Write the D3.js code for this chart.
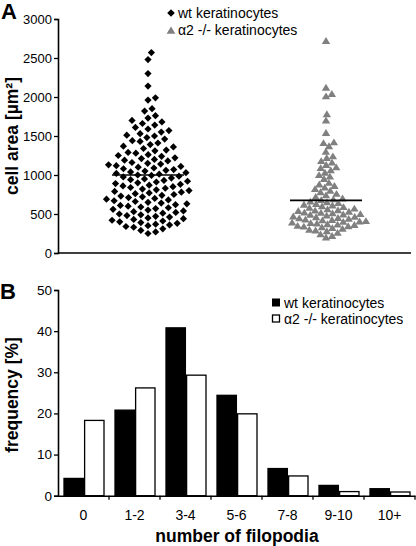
<!DOCTYPE html>
<html><head><meta charset="utf-8">
<script src="https://cdn.jsdelivr.net/npm/d3@7"></script>
<style>body{margin:0;background:#fff}svg{display:block;font-family:"Liberation Sans",Arial,sans-serif}</style>
</head><body><svg id="c" width="416" height="546"></svg>
<script>
// ---- Panel A data ----
const groupsA = ["wt keratinocytes", "α2 -/- keratinocytes"];
const wtArea = [2570,2480,2300,2140,1990,1960,1850,1820,1760,1730,1700,1680,1660,1640,1610,1590,1570,1550,1530,1510,1500,1480,1460,1440,1430,1410,1390,1370,1360,1340,1320,1310,1290,1280,1260,1250,1240,1220,1210,1200,1190,1180,1160,1150,1140,1130,1120,1110,1100,1090,1080,1070,1060,1050,1040,1030,1020,1010,1000,995,985,975,960,950,940,930,920,910,900,890,880,870,860,850,840,830,820,810,800,790,780,770,760,750,740,730,720,710,700,690,680,670,660,650,640,630,620,610,600,590,580,570,560,550,540,530,520,510,500,490,480,470,460,450,440,430,420,410,400,390,380,370,360,350,340,330,310,290,270,250];
const koArea = [2720,2120,2040,2010,1780,1700,1540,1420,1410,1370,1300,1240,1220,1180,1160,1130,1100,1090,1060,1030,1000,980,950,900,880,860,840,820,800,780,760,740,720,700,690,680,660,650,640,630,620,610,600,590,580,570,560,550,545,540,530,520,515,510,500,495,490,480,470,465,460,450,445,440,430,425,420,410,405,400,390,385,380,370,365,360,350,345,340,330,320,310,300,290,280,260,240,220,200];
const meansA = [1000, 675];
const yTicksA = [0,500,1000,1500,2000,2500,3000];
// ---- Panel B data ----
const categoriesB = ["0","1-2","3-4","5-6","7-8","9-10","10+"];
const seriesB = ["wt keratinocytes", "α2 -/- keratinocytes"];
const wtFreq = [4.2, 20.8, 40.8, 24.4, 6.6, 2.5, 1.7];
const koFreq = [18.3, 26.2, 29.3, 19.9, 4.8, 1.0, 0.9];
const yTicksB = [0,10,20,30,40,50];

const svg = d3.select("#c");
const TICK = 13;
const FONT = 14;
const LAB = 17.5;

// ================= Panel A =================
const yA = d3.scaleLinear().domain([0,3000]).range([253,19]);
const xA = d3.scalePoint().domain(groupsA).range([148,326]);
const gA = svg.append("g");
gA.append("g").attr("transform","translate(58,0)")
  .call(d3.axisLeft(yA).tickValues(yTicksA).tickSize(4).tickPadding(2).tickFormat(d3.format("d")))
  .call(g=>{g.select(".domain").attr("stroke-width",1.6);g.selectAll(".tick line").attr("stroke-width",1.3);
    g.selectAll("text").attr("font-size",TICK).attr("fill","#000").attr("font-family","Liberation Sans, Arial");});
gA.append("line").attr("x1",58).attr("x2",411).attr("y1",yA(0)).attr("y2",yA(0)).attr("stroke","#000").attr("stroke-width",1.6);

function swarm(values, cx, d){
  const placed=[]; const out=[];
  const order = values.map((v,i)=>i).sort((a,b)=>values[a]-values[b]);
  for(const i of order){
    const y=yA(values[i]);
    const near=placed.filter(p=>Math.abs(p.y-y)<d);
    const cands=[0];
    for(const p of near){const dx=Math.sqrt(d*d-(p.y-y)**2);cands.push(p.x+dx,p.x-dx);}
    cands.sort((a,b)=>Math.abs(a)-Math.abs(b));
    let xo=0;
    for(const c of cands){ if(near.every(p=>(p.x-c)**2+(p.y-y)**2>=d*d-0.01)){xo=c;break;} }
    placed.push({x:xo,y}); out.push({x:cx+xo,y});
  }
  return out;
}
const diamond = (x,y,r)=>`M${x},${y-r}L${x+r},${y}L${x},${y+r}L${x-r},${y}Z`;
const tri = (x,y,r)=>`M${x},${y-r}L${x+r*1.1},${y+r*0.8}L${x-r*1.1},${y+r*0.8}Z`;

const wtPts = swarm(wtArea, xA(groupsA[0]), 7.8);
gA.append("g").selectAll("path").data(wtPts).join("path").attr("d",p=>diamond(p.x,p.y,3.6)).attr("fill","#000");
const koPts = swarm(koArea, xA(groupsA[1]), 6.3);
gA.append("g").selectAll("path").data(koPts).join("path").attr("d",p=>tri(p.x,p.y,3.8)).attr("fill","#808080");
meansA.forEach((m,i)=>{const cx=xA(groupsA[i]);
  gA.append("line").attr("x1",cx-36).attr("x2",cx+36).attr("y1",yA(m)).attr("y2",yA(m)).attr("stroke","#000").attr("stroke-width",1.6);});

// legend A
gA.append("path").attr("d",diamond(171,13,3.8)).attr("fill","#000");
gA.append("path").attr("d",tri(171,30.5,4)).attr("fill","#808080");
gA.append("text").attr("x",178).attr("y",18).attr("font-size",FONT).text(groupsA[0]);
gA.append("text").attr("x",178).attr("y",35).attr("font-size",FONT).text(groupsA[1]);
gA.append("text").attr("x",1).attr("y",19).attr("font-size",22).attr("font-weight","bold").text("A");
gA.append("text").attr("transform",`translate(18,136) rotate(-90)`).attr("text-anchor","middle")
  .attr("font-size",LAB).attr("font-weight","bold").text("cell area [µm²]");

// ================= Panel B =================
const yB = d3.scaleLinear().domain([0,50]).range([495.7,290]);
const xB = d3.scaleBand().domain(categoriesB).range([58,415]);
const xS = d3.scaleBand().domain(seriesB).range([6,46]).paddingInner(0.06);
const gB = svg.append("g");
const rows = categoriesB.map((c,i)=>({c, vals:[wtFreq[i],koFreq[i]]}));
gB.append("g").selectAll("g").data(rows).join("g").attr("transform",d=>`translate(${xB(d.c)},0)`)
  .selectAll("rect").data(d=>d.vals.map((v,j)=>({s:seriesB[j],v})))
  .join("rect").attr("x",d=>xS(d.s)).attr("width",xS.bandwidth())
  .attr("y",d=>yB(d.v)).attr("height",d=>yB(0)-yB(d.v))
  .attr("fill",d=>d.s===seriesB[0]?"#000":"#fff").attr("stroke","#000").attr("stroke-width",1.3);
gB.append("g").attr("transform","translate(58,0)")
  .call(d3.axisLeft(yB).tickValues(yTicksB).tickSize(4).tickPadding(2))
  .call(g=>{g.select(".domain").attr("stroke-width",1.6);g.selectAll(".tick line").attr("stroke-width",1.3);
    g.selectAll("text").attr("font-size",TICK+0.5).attr("fill","#000").attr("font-family","Liberation Sans, Arial");});
gB.append("g").attr("transform",`translate(0,${yB(0)})`)
  .call(d3.axisBottom(xB).tickSize(0).tickPadding(14))
  .call(g=>{g.select(".domain").attr("stroke-width",1.6);
    g.selectAll("text").attr("font-size",FONT).attr("fill","#000").attr("font-family","Liberation Sans, Arial");});
gB.append("g").selectAll("line").data(categoriesB.slice(1).concat(["end"])).join("line")
  .attr("x1",d=>d==="end"?415:xB(d)).attr("x2",d=>d==="end"?415:xB(d))
  .attr("y1",yB(0)).attr("y2",yB(0)+4).attr("stroke","#000").attr("stroke-width",1.3);
// legend B
gB.append("rect").attr("x",272.5).attr("y",299).attr("width",7).attr("height",7).attr("fill","#000").attr("stroke","#000");
gB.append("rect").attr("x",272.5).attr("y",315).attr("width",7).attr("height",7).attr("fill","#fff").attr("stroke","#000").attr("stroke-width",1.3);
gB.append("text").attr("x",284).attr("y",307.5).attr("font-size",FONT).text(seriesB[0]);
gB.append("text").attr("x",284).attr("y",323.5).attr("font-size",FONT).text(seriesB[1]);
gB.append("text").attr("x",0).attr("y",299).attr("font-size",22).attr("font-weight","bold").text("B");
gB.append("text").attr("transform",`translate(18,395) rotate(-90)`).attr("text-anchor","middle")
  .attr("font-size",LAB).attr("font-weight","bold").text("frequency [%]");
gB.append("text").attr("x",237).attr("y",542).attr("text-anchor","middle")
  .attr("font-size",LAB).attr("font-weight","bold").text("number of filopodia");
</script></body></html>
